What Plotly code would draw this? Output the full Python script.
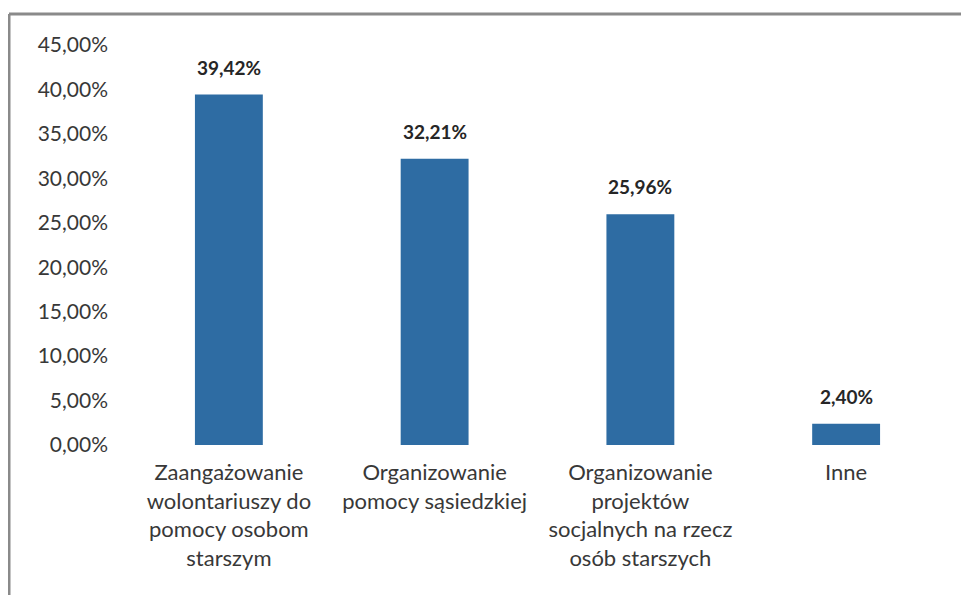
import plotly.graph_objects as go

categories = [
    "Zaangażowanie<br>wolontariuszy do<br>pomocy osobom<br>starszym",
    "Organizowanie<br>pomocy sąsiedzkiej",
    "Organizowanie<br>projektów<br>socjalnych na rzecz<br>osób starszych",
    "Inne",
]
values = [39.42, 32.21, 25.96, 2.40]
tick_values = [0, 5, 10, 15, 20, 25, 30, 35, 40, 45]
tick_labels = ["0,00%", "5,00%", "10,00%", "15,00%", "20,00%",
               "25,00%", "30,00%", "35,00%", "40,00%", "45,00%"]
value_labels = ["39,42%", "32,21%", "25,96%", "2,40%"]

# page body has an 8px margin, so the figure starts at (8, 8)
OFF = 8
W, H = 969 - OFF, 595 - OFF
ml, mr, mt, mb = 126 - OFF, 20, 45 - OFF, 150
pw, ph = W - ml - mr, H - mt - mb


def px_x(x):
    return (x - OFF - ml) / pw


def px_y(y):
    return 1 - (y - OFF - mt) / ph


fig = go.Figure(
    go.Bar(
        x=categories,
        y=values,
        marker=dict(color="#2E6CA3", line=dict(width=0)),
        width=0.33,
    )
)

for c, v, t in zip(categories, values, value_labels):
    fig.add_annotation(
        x=c, y=v, text="<b>" + t + "</b>", showarrow=False,
        yanchor="bottom", yshift=14,
        font=dict(size=19, color="#262626", family="Lato"),
    )

fig.update_layout(
    width=W,
    height=H,
    margin=dict(l=ml, r=mr, t=mt, b=mb, autoexpand=False),
    paper_bgcolor="white",
    plot_bgcolor="white",
    showlegend=False,
    font=dict(family="Lato", color="#333333"),
    xaxis=dict(
        showgrid=False,
        showline=False,
        ticks="",
        ticklabelstandoff=12,
        tickfont=dict(size=22, color="#383838"),
    ),
    yaxis=dict(
        range=[0, 45],
        tickmode="array",
        tickvals=tick_values,
        ticktext=tick_labels,
        showgrid=False,
        zeroline=False,
        showline=False,
        ticks="",
        ticklabelstandoff=17,
        tickfont=dict(size=21, color="#383838"),
    ),
    shapes=[
        dict(type="line", xref="paper", yref="paper",
             x0=px_x(9), x1=px_x(9), y0=px_y(600), y1=px_y(14),
             line=dict(color="#8a8a8a", width=3)),
        dict(type="line", xref="paper", yref="paper",
             x0=px_x(9), x1=px_x(975), y0=px_y(14), y1=px_y(14),
             line=dict(color="#8a8a8a", width=3)),
    ],
)

fig.write_html("out.html")
